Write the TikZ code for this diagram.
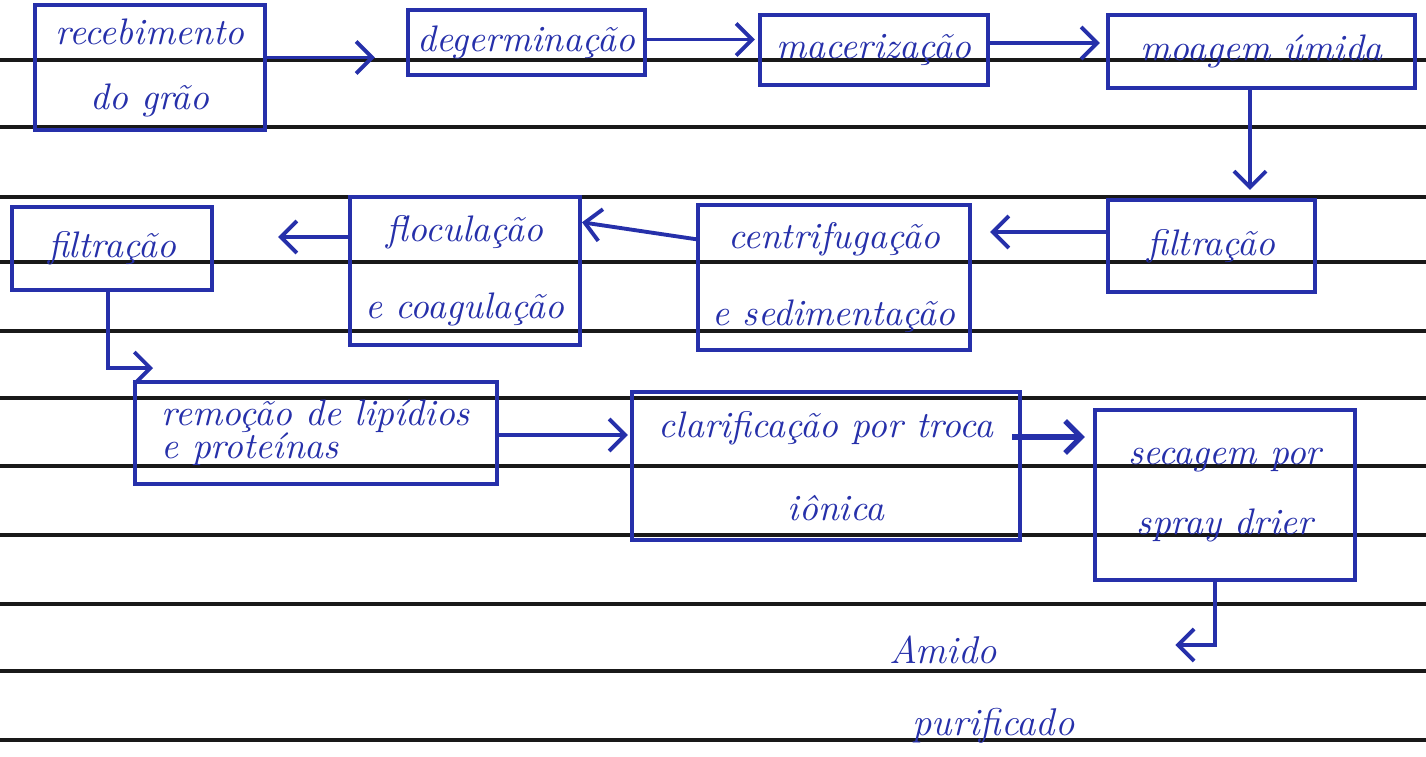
\documentclass[tikz,border=0pt]{standalone}
\usetikzlibrary{arrows.meta,calc}
\definecolor{ink}{RGB}{38,48,170}
\definecolor{rulecol}{RGB}{25,25,25}
\begin{document}
\begin{tikzpicture}[x=0.01cm,y=-0.01cm,
  box/.style={draw=ink, line width=1.1pt, inner sep=0pt, outer sep=0pt, text=ink, align=center,
    font=\fontsize{10.5}{12.5}\selectfont\itshape},
  lbl/.style={text=ink, align=left, inner sep=0pt, font=\fontsize{11}{13}\selectfont\itshape},
  arr/.style={draw=ink, line width=1.1pt, -{Straight Barb[length=1.6mm,width=3.2mm]}},
  ruled/.style={draw=rulecol, line width=0.9pt}]
\useasboundingbox (0,0) rectangle (1426,757);
\fill[white] (0,0) rectangle (1426,757);
% ruled paper
\foreach \yy in {60,127,197,262,331,398,466,535,604,671,740}
  \draw[ruled] (0,\yy) -- (1426,\yy);
% process boxes
\node[box, minimum width=2.30cm, minimum height=1.25cm] (n1) at (150,67.5) {recebimento\\[6pt]do grão};
\node[box, minimum width=2.37cm, minimum height=0.65cm] (n2) at (526.5,42.5) {degerminação};
\node[box, minimum width=2.28cm, minimum height=0.70cm] (n3) at (874,50) {macerização};
\node[box, minimum width=3.07cm, minimum height=0.73cm] (n4) at (1261.5,51.5) {moagem úmida};
\node[box, minimum width=2.07cm, minimum height=0.92cm] (n5) at (1211.5,246) {filtração};
\node[box, minimum width=2.72cm, minimum height=1.45cm] (n6) at (834,277.5) {centrifugação\\[9.5pt]e sedimentação};
\node[box, minimum width=2.30cm, minimum height=1.48cm] (n7) at (465,271) {floculação\\[9.5pt]e coagulação};
\node[box, minimum width=2.00cm, minimum height=0.83cm] (n8) at (112,248.5) {filtração};
\node[box, minimum width=3.62cm, minimum height=1.02cm, align=left] (n9) at (316,433) {remoção de lipídios\\[-3pt]e proteínas};
\node[box, minimum width=3.88cm, minimum height=1.48cm, align=left] (n10) at (826,466) {clarificação por troca\\[11pt]\hspace*{3.5em}iônica};
\node[box, minimum width=2.60cm, minimum height=1.70cm] (n11) at (1225,495) {secagem por\\[7.5pt]spray drier};
\node[lbl] (n12) at (982,690) {Amido\\[7.5pt]\hspace*{0.6em}purificado};
% connectors
\coordinate (c1) at ($(n1.east)+(0,-10)$);
\draw[arr, shorten >=3.3mm] (c1) -- (c1 -| n2.west);
\coordinate (c2) at ($(n2.east)+(0,-3)$);
\draw[arr, shorten >=0.5mm] (c2) -- (c2 -| n3.west);
\coordinate (c3) at ($(n3.east)+(0,-7)$);
\draw[arr, shorten >=0.8mm] (c3) -- (c3 -| n4.west);
\coordinate (c4) at (1250,0);
\draw[arr, shorten >=1mm] (c4 |- n4.south) -- (c4 |- n5.north);
\coordinate (c5) at ($(n5.west)+(0,-14)$);
\draw[arr, shorten >=2mm] (c5) -- (c5 -| n6.east);
\coordinate (c6) at ($(n6.west)+(0,-38)$);
\draw[arr, shorten >=0.2mm] (c6) -- ($(n7.east)+(0,-49)$);
\coordinate (c7) at ($(n7.west)+(0,-34)$);
\draw[arr, shorten >=6.6mm] (c7) -- (c7 -| n8.east);
\coordinate (c8) at (108,368);
\draw[arr] (c8 |- n8.south) -- (c8) -- ++(45,0);
\coordinate (c9) at ($(n9.east)+(0,2)$);
\draw[arr, shorten >=0.4mm] (c9) -- (c9 -| n10.west);
\coordinate (c10) at ($(n10.east)+(-8,-29)$);
\draw[arr, line width=1.5pt, shorten >=1mm] (c10) -- (c10 -| n11.west);
\coordinate (c11) at (1215,645);
\draw[arr, shorten >=10mm] (c11 |- n11.south) -- (c11) -- (n12.east |- c11);
\end{tikzpicture}
\end{document}
